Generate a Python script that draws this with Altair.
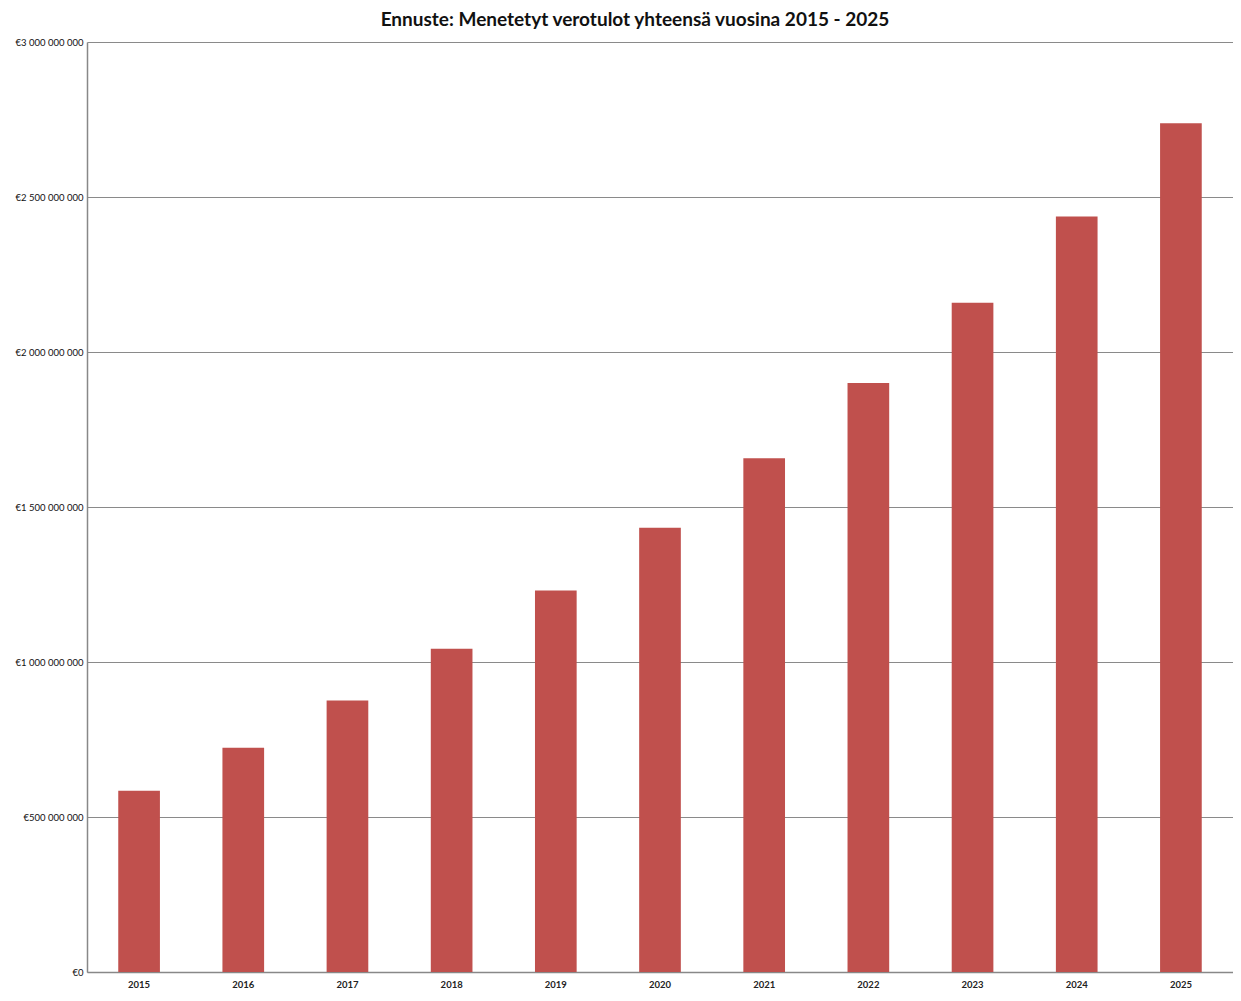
import altair as alt
import pandas as pd

years = ["2015", "2016", "2017", "2018", "2019", "2020", "2021", "2022", "2023", "2024", "2025"]
values = [585e6, 723e6, 876e6, 1043e6, 1231e6, 1433e6, 1657e6, 1900e6, 2159e6, 2437e6, 2738e6]
y_ticks = [0, 500e6, 1000e6, 1500e6, 2000e6, 2500e6, 3000e6]
title_text = "Ennuste: Menetetyt verotulot yhteensä vuosina 2015 - 2025"

df = pd.DataFrame({"year": years, "value": values})

chart = alt.Chart(df).mark_bar(color="#C0504D").encode(
    x=alt.X("year:N", sort=years, title=None,
            scale=alt.Scale(paddingInner=0.6, paddingOuter=0.3),
            axis=alt.Axis(labelAngle=0, labelFont="Lato", labelFontWeight="bold",
                          labelFontSize=9.5, labelColor="#222", labelPadding=7,
                          ticks=False, domainColor="#888", domainWidth=1.5, grid=False)),
    y=alt.Y("value:Q", title=None,
            scale=alt.Scale(domain=[0, 3e9], nice=False),
            axis=alt.Axis(values=y_ticks, ticks=False, labelFont="Lato", labelFontSize=9.5,
                          labelColor="#111", labelPadding=4,
                          labelExpr="'€' + join(split(format(datum.value, ',d'), ','), ' ')",
                          gridColor="#8a8a8a", gridWidth=1, domainColor="#888", domainWidth=1.5)),
).properties(
    width=1146, height=930,
    title=alt.TitleParams(title_text, font="Lato", fontSize=19, fontWeight="bold",
                          color="#111", anchor="middle", dx=-25, offset=7),
    autosize=alt.AutoSizeParams(type="none"),
    padding={"left": 79, "top": 34, "right": 0, "bottom": 16},
).configure_view(stroke=None)

chart.save("out.html", embed_options={"renderer": "svg", "actions": False})
